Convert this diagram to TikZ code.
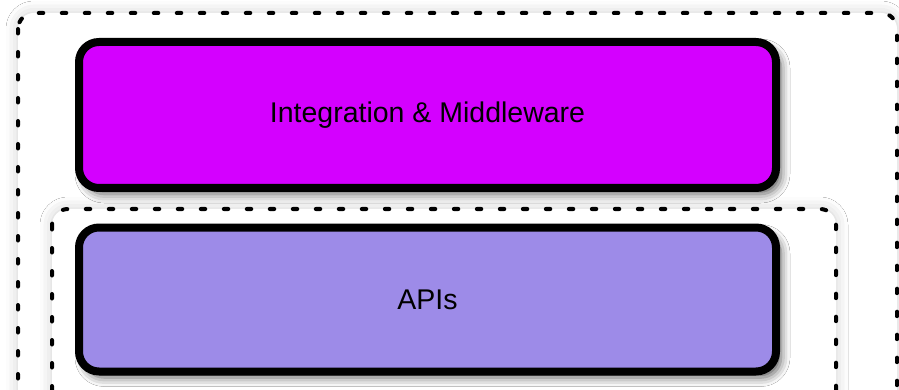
\documentclass[tikz,border=0pt]{standalone}
\usepackage{fontspec}
\setmainfont{Liberation Sans}
\usetikzlibrary{shadows.blur}
\definecolor{magtop}{RGB}{212,0,255}
\definecolor{lavbox}{RGB}{157,139,232}
\tikzset{
  layerbox/.style={draw=black, line width=8pt, rounded corners=20pt,
    minimum width=697pt, minimum height=146pt, inner sep=0pt,
    font=\fontsize{28.5}{32}\selectfont,
    blur shadow={shadow xshift=5pt, shadow yshift=-6pt, shadow blur radius=9pt, shadow opacity=65}},
  container/.style={draw=black, line width=4pt, dash pattern=on 4.5pt off 18.5pt, line cap=round,
    rounded corners=16pt, fill=white,
    blur shadow={shadow xshift=0pt, shadow yshift=0pt, shadow blur radius=12pt, shadow opacity=20}}
}
\begin{document}
\begin{tikzpicture}[x=1pt,y=-1pt]
\useasboundingbox (0,0) rectangle (899,390);
\clip (0,0) rectangle (899,390);
\fill[white] (0,0) rectangle (899,390);
\path[container] (18,13) rectangle (897,430);
\node[layerbox, fill=magtop] (integration) at (427.5,115) {Integration \& Middleware};
\path[container] (52,209) rectangle (836,440);
\node[layerbox, fill=lavbox, minimum height=144pt] (apis) at (427.5,299.5) {APIs};
\end{tikzpicture}
\end{document}
